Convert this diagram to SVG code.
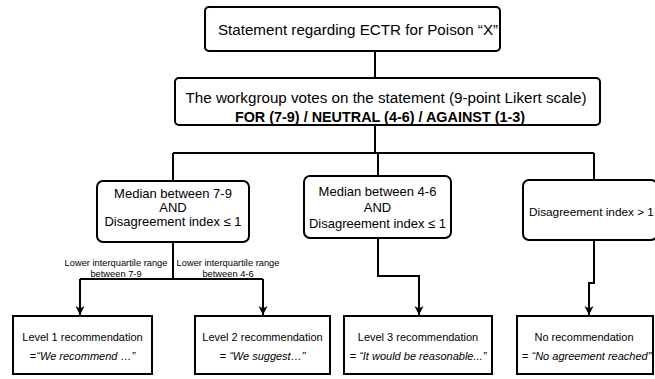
<svg xmlns="http://www.w3.org/2000/svg" width="655" height="379" viewBox="0 0 655 379">
<defs>
<style>
.box{fill:#fff;stroke:#000;stroke-width:2}
.t{font-family:"Liberation Sans",Arial,sans-serif;fill:#000;text-anchor:middle}
.c{fill:none;stroke:#000;stroke-width:2}
.it{font-style:italic}
</style>
<marker id="arr" markerUnits="userSpaceOnUse" markerWidth="10" markerHeight="10" refX="9" refY="5" orient="auto">
<path d="M0,0.5 L9,5 L0,9.5 L2.5,5 z" fill="#000"/>
</marker>
</defs>
<rect width="655" height="379" fill="#fff"/>
<g id="connectors">
<path class="c" d="M375,51 V78"/>
<path class="c" d="M375,125 V153"/>
<path class="c" d="M173,153 H594"/>
<path class="c" d="M173,153 V181"/>
<path class="c" d="M378,153 V176"/>
<path class="c" d="M594,153 V180"/>
<path class="c" d="M173,242 V279"/>
<path class="c" d="M80,279 H263"/>
<path class="c" d="M80,279 V315" marker-end="url(#arr)"/>
<path class="c" d="M263,279 V315" marker-end="url(#arr)"/>
<path class="c" d="M378,238 V276 H419 V315" marker-end="url(#arr)"/>
<path class="c" d="M594,240 V283 H589 V315" marker-end="url(#arr)"/>
<text class="t" x="116" y="266" font-size="9.3">Lower interquartile range</text>
<text class="t" x="116" y="277" font-size="9.3">between 7-9</text>
<text class="t" x="228" y="266" font-size="9.3">Lower interquartile range</text>
<text class="t" x="228" y="277" font-size="9.3">between 4-6</text>
</g>
<g id="statement">
<rect class="box" x="205" y="7" width="295" height="44" rx="4"/>
<text class="t" x="358" y="35" font-size="15.2">Statement regarding ECTR for Poison “X”</text>
</g>
<g id="vote">
<rect class="box" x="175" y="78" width="425" height="47" rx="4"/>
<text class="t" x="386" y="103" font-size="15.2">The workgroup votes on the statement (9-point Likert scale)</text>
<text class="t" x="380" y="122" font-size="14.4" font-weight="bold">FOR (7-9) / NEUTRAL (4-6) / AGAINST (1-3)</text>
</g>
<g id="median79">
<rect class="box" x="97" y="181" width="152" height="61" rx="6"/>
<text class="t" x="173" y="198" font-size="13">Median between 7-9</text>
<text class="t" x="173" y="212" font-size="13">AND</text>
<text class="t" x="173" y="226" font-size="13">Disagreement index ≤ 1</text>
</g>
<g id="median46">
<rect class="box" x="304" y="176" width="147" height="62" rx="6"/>
<text class="t" x="377.5" y="196" font-size="13">Median between 4-6</text>
<text class="t" x="377.5" y="212" font-size="13">AND</text>
<text class="t" x="377.5" y="228" font-size="13">Disagreement index ≤ 1</text>
</g>
<g id="disagree">
<rect class="box" x="523" y="180" width="134" height="60" rx="6"/>
<text class="t" x="529" y="216" font-size="11.8" style="text-anchor:start">Disagreement index &gt; 1</text>
</g>
<g id="level1">
<rect class="box" x="13" y="316" width="139" height="58"/>
<text class="t" x="82.5" y="341" font-size="11">Level 1 recommendation</text>
<text class="t" x="82.5" y="360" font-size="11">=<tspan class="it">“We recommend …”</tspan></text>
</g>
<g id="level2">
<rect class="box" x="195" y="316" width="135" height="58"/>
<text class="t" x="262.5" y="341" font-size="11">Level 2 recommendation</text>
<text class="t" x="262.5" y="360" font-size="11">= <tspan class="it">“We suggest…”</tspan></text>
</g>
<g id="level3">
<rect class="box" x="344" y="316" width="148" height="58"/>
<text class="t" x="418" y="341" font-size="11">Level 3 recommendation</text>
<text class="t" x="418" y="360" font-size="11">= <tspan class="it">“It would be reasonable...”</tspan></text>
</g>
<g id="norec">
<rect class="box" x="517" y="316" width="136" height="58"/>
<text class="t" x="584" y="341" font-size="11">No recommendation</text>
<text class="t" x="522" y="360" font-size="11" style="text-anchor:start">= <tspan class="it">“No agreement reached”</tspan></text>
</g>
</svg>
